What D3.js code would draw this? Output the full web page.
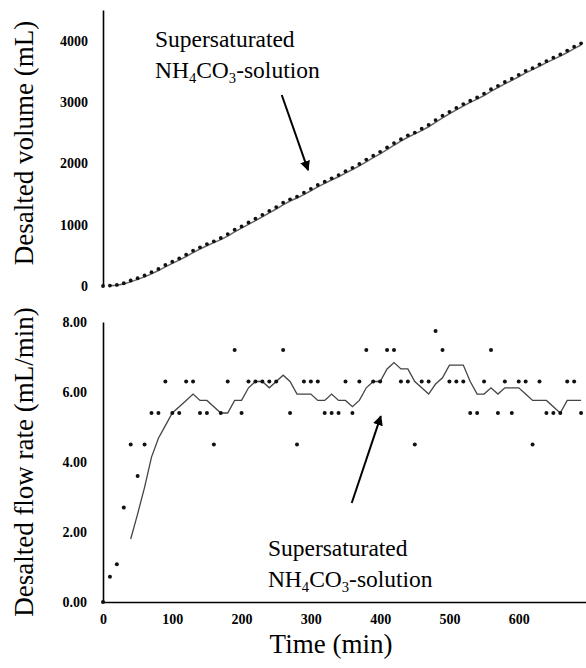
<!DOCTYPE html>
<html>
<head>
<meta charset="utf-8">
<script src="https://cdn.jsdelivr.net/npm/d3@7"></script>
<style>
  body { margin: 0; background: #fff; }
  svg { display: block; font-family: "Liberation Serif", "Times New Roman", serif; }
</style>
</head>
<body>
<div class="graph"></div>
<script>
// Sampling times (min)
const times = [0, 10, 20, 30, 40, 50, 60, 70, 80, 90, 100, 110, 120, 130, 140, 150, 160, 170, 180, 190,
  200, 210, 220, 230, 240, 250, 260, 270, 280, 290, 300, 310, 320, 330, 340, 350, 360, 370, 380, 390,
  400, 410, 420, 430, 440, 450, 460, 470, 480, 490, 500, 510, 520, 530, 540, 550, 560, 570, 580, 590,
  600, 610, 620, 630, 640, 650, 660, 670, 680, 690];

// Desalted volume (mL)
const volume = [0, 7, 18, 45, 90, 126, 171, 225, 279, 342, 396, 450, 513, 576, 630, 684, 729, 783, 846, 918,
  972, 1035, 1098, 1161, 1224, 1287, 1359, 1413, 1458, 1521, 1584, 1647, 1701, 1755, 1809, 1872, 1926, 1989, 2061, 2124,
  2187, 2259, 2331, 2394, 2457, 2502, 2565, 2628, 2705, 2777, 2840, 2903, 2966, 3020, 3074, 3137, 3209, 3263, 3326, 3380,
  3443, 3506, 3551, 3614, 3668, 3722, 3776, 3839, 3902, 3956];

// Desalted flow rate (mL/min)
const flowRate = [0, 0.72, 1.08, 2.7, 4.5, 3.6, 4.5, 5.4, 5.4, 6.3, 5.4, 5.4, 6.3, 6.3, 5.4, 5.4, 4.5, 5.4, 6.3, 7.2,
  5.4, 6.3, 6.3, 6.3, 6.3, 6.3, 7.2, 5.4, 4.5, 6.3, 6.3, 6.3, 5.4, 5.4, 5.4, 6.3, 5.4, 6.3, 7.2, 6.3,
  6.3, 7.2, 7.2, 6.3, 6.3, 4.5, 6.3, 6.3, 7.74, 7.2, 6.3, 6.3, 6.3, 5.4, 5.4, 6.3, 7.2, 5.4, 6.3, 5.4,
  6.3, 6.3, 4.5, 6.3, 5.4, 5.4, 5.4, 6.3, 6.3, 5.4];

// Tick labels
const volumeTicks = [0, 1000, 2000, 3000, 4000];
const rateTicks = [0, 2, 4, 6, 8];
const timeTicks = [0, 100, 200, 300, 400, 500, 600];

const width = 586;
const height = 668;

const svg = d3.select('.graph')
  .append('svg')
  .attr('width', width)
  .attr('height', height);

// Scales
const x = d3.scaleLinear().domain([0, 700]).range([103, 588]);
const yVol = d3.scaleLinear().domain([0, 4500]).range([286, 10]);
const yRate = d3.scaleLinear().domain([0, 8]).range([602, 322]);

// Trailing moving average (like the Excel trendline)
function movingAverage(values, period) {
  const out = [];
  for (let i = period - 1; i < values.length; i++) {
    out.push([times[i], d3.mean(values.slice(i - period + 1, i + 1))]);
  }
  return out;
}

// Arrow head
svg.append('defs').append('marker')
  .attr('id', 'arrow')
  .attr('viewBox', '0 0 10 10')
  .attr('refX', 9)
  .attr('refY', 5)
  .attr('markerWidth', 5)
  .attr('markerHeight', 5)
  .attr('orient', 'auto')
  .append('path')
  .attr('d', 'M0,0L10,5L0,10Z')
  .attr('fill', '#000');

function styleAxis(g, size) {
  g.select('.domain').attr('stroke', '#000').attr('stroke-width', 1.6);
  g.selectAll('.tick line').remove();
  g.selectAll('text')
    .attr('font-family', '"Liberation Serif", "Times New Roman", serif')
    .attr('font-size', size)
    .attr('font-weight', 'bold')
    .attr('fill', '#000');
}

// ---------- Top panel: volume ----------
svg.append('g')
  .attr('transform', `translate(${x(0)},0)`)
  .call(d3.axisLeft(yVol).tickValues(volumeTicks).tickSize(0).tickSizeOuter(0).tickPadding(15).tickFormat(d3.format('d')))
  .call(g => styleAxis(g, 14));

svg.append('path')
  .datum(movingAverage(volume, 2))
  .attr('fill', 'none')
  .attr('stroke', '#666')
  .attr('stroke-width', 1.5)
  .attr('d', d3.line().x(d => x(d[0])).y(d => yVol(d[1])));

svg.append('g')
  .selectAll('circle')
  .data(times)
  .enter()
  .append('circle')
  .attr('cx', d => x(d))
  .attr('cy', (d, i) => yVol(volume[i]))
  .attr('r', 1.9)
  .attr('fill', '#111');

svg.append('text')
  .attr('transform', 'translate(33,143) rotate(-90)')
  .attr('text-anchor', 'middle')
  .attr('font-size', 27)
  .text('Desalted volume (mL)');

// ---------- Bottom panel: flow rate ----------
svg.append('g')
  .attr('transform', `translate(${x(0)},0)`)
  .call(d3.axisLeft(yRate).tickValues(rateTicks).tickSize(0).tickSizeOuter(0).tickPadding(16).tickFormat(d3.format('.2f')))
  .call(g => styleAxis(g, 14));

svg.append('g')
  .attr('transform', `translate(0,${yRate(0)})`)
  .call(d3.axisBottom(x).tickValues(timeTicks).tickSize(0).tickSizeOuter(0).tickPadding(12).tickFormat(d3.format('d')))
  .call(g => styleAxis(g, 14));

svg.append('path')
  .datum(movingAverage(flowRate, 5))
  .attr('fill', 'none')
  .attr('stroke', '#444')
  .attr('stroke-width', 1.3)
  .attr('d', d3.line().x(d => x(d[0])).y(d => yRate(d[1])));

svg.append('g')
  .selectAll('circle')
  .data(times)
  .enter()
  .append('circle')
  .attr('cx', d => x(d))
  .attr('cy', (d, i) => yRate(flowRate[i]))
  .attr('r', 2)
  .attr('fill', '#111');

svg.append('text')
  .attr('transform', `translate(33,${(yRate(0) + yRate(8)) / 2}) rotate(-90)`)
  .attr('text-anchor', 'middle')
  .attr('font-size', 27)
  .text('Desalted flow rate (mL/min)');

svg.append('text')
  .attr('x', 331)
  .attr('y', 653)
  .attr('text-anchor', 'middle')
  .attr('font-size', 27)
  .text('Time (min)');

// ---------- Annotations ----------
function annotation(t0, v0, y, fs) {
  const g = svg.append('g').attr('font-size', fs);
  g.append('text').attr('x', x(t0)).attr('y', y(v0)).text('Supersaturated');
  const line2 = g.append('text').attr('x', x(t0)).attr('y', y(v0) + 31);
  line2.append('tspan').text('NH');
  line2.append('tspan').attr('font-size', fs * 0.62).attr('dy', 5).text('4');
  line2.append('tspan').attr('dy', -5).text('CO');
  line2.append('tspan').attr('font-size', fs * 0.62).attr('dy', 5).text('3');
  line2.append('tspan').attr('dy', -5).text('-solution');
}

annotation(75, 3897, yVol, 23.5);
annotation(238, 1.31, yRate, 23.5);

svg.append('line')
  .attr('x1', x(258)).attr('y1', yVol(3114))
  .attr('x2', x(296)).attr('y2', yVol(1890))
  .attr('stroke', '#000')
  .attr('stroke-width', 2)
  .attr('marker-end', 'url(#arrow)');

svg.append('line')
  .attr('x1', x(359)).attr('y1', yRate(2.83))
  .attr('x2', x(401)).attr('y2', yRate(5.31))
  .attr('stroke', '#000')
  .attr('stroke-width', 2)
  .attr('marker-end', 'url(#arrow)');
</script>
</body>
</html>
